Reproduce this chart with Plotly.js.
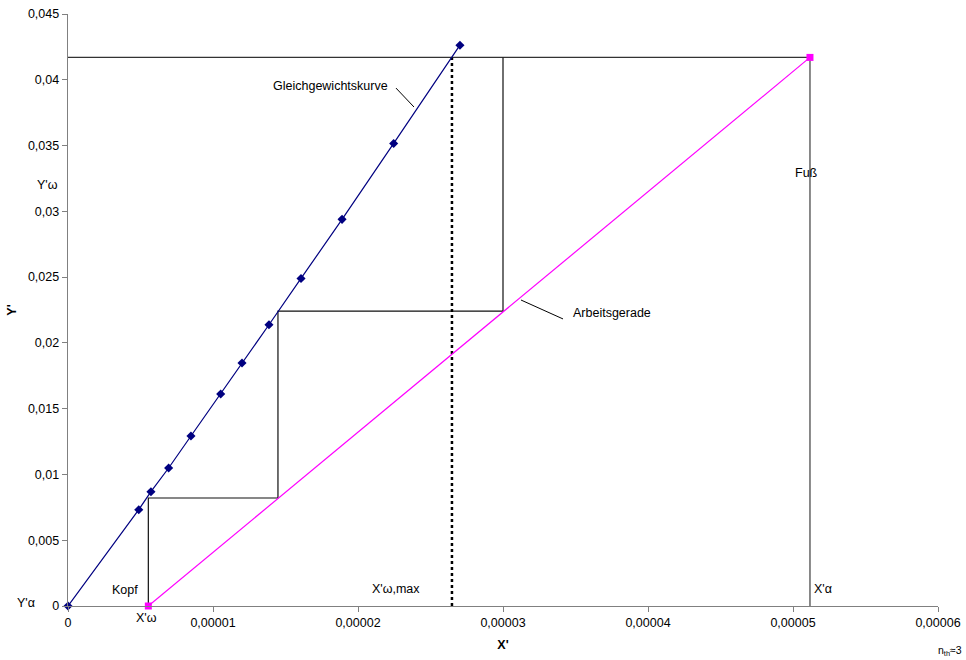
<!DOCTYPE html>
<html>
<head>
<meta charset="utf-8">
<script src="https://cdn.plot.ly/plotly-3.0.1.min.js"></script>
<style>html,body{margin:0;padding:0;background:#fff;}#chart{width:966px;height:660px;}</style>
</head>
<body>
<div id="chart"></div>
<script>
// Gleichgewichtskurve (equilibrium curve) points
const eqX = [0, 4.88e-6, 5.72e-6, 6.94e-6, 8.48e-6, 10.53e-6, 12.0e-6, 13.86e-6, 16.07e-6, 18.9e-6, 22.46e-6, 27.03e-6];
const eqY = [0, 0.00732, 0.00869, 0.01049, 0.01292, 0.01611, 0.01847, 0.02138, 0.0249, 0.02939, 0.03516, 0.04263];

// Arbeitsgerade (operating line)
const opX = [5.54e-6, 51.17e-6];
const opY = [0, 0.0417];

// Stufen (stages)
const stepX = [5.54e-6, 5.54e-6, 14.48e-6, 14.48e-6, 30.0e-6, 30.0e-6];
const stepY = [0, 0.00821, 0.00821, 0.02242, 0.02242, 0.0417];

// Y'omega horizontal line and X'alpha vertical line
const topX = [0, 51.17e-6];
const topY = [0.0417, 0.0417];
const footX = [51.17e-6, 51.17e-6];
const footY = [0.0417, 0];

// X'omega,max dotted line
const maxX = [26.48e-6, 26.48e-6];
const maxY = [0, 0.0417];

// ticks
const xTickVals = [0, 0.00001, 0.00002, 0.00003, 0.00004, 0.00005, 0.00006];
const xTickText = ["0", "0,00001", "0,00002", "0,00003", "0,00004", "0,00005", "0,00006"];
const yTickVals = [0, 0.005, 0.01, 0.015, 0.02, 0.025, 0.03, 0.035, 0.04, 0.045];
const yTickText = ["0", "0,005", "0,01", "0,015", "0,02", "0,025", "0,03", "0,035", "0,04", "0,045"];

const FONT = "'Liberation Sans', Arial, sans-serif";
const FS = 12.5;

const traces = [
  {x: topX, y: topY, mode: 'lines', line: {color: '#333333', width: 1.3}, hoverinfo: 'skip'},
  {x: footX, y: footY, mode: 'lines', line: {color: '#6e6e6e', width: 1.6}, hoverinfo: 'skip'},
  {x: stepX, y: stepY, mode: 'lines', line: {color: '#111111', width: 1.2}, hoverinfo: 'skip'},
  {x: maxX, y: maxY, mode: 'lines', line: {color: '#000000', width: 2.5, dash: 'dot'}, hoverinfo: 'skip'},
  {x: opX, y: opY, mode: 'lines+markers', line: {color: '#ff00ff', width: 1.2},
   marker: {symbol: 'square', size: 7, color: '#ff00ff'}, cliponaxis: false},
  {x: eqX, y: eqY, mode: 'lines+markers', line: {color: '#000080', width: 1.2},
   marker: {symbol: 'diamond', size: 7, color: '#000080'}, cliponaxis: false}
];

function ann(text, x, y, opts) {
  return Object.assign({text: text, x: x, y: y, xref: 'x', yref: 'y', showarrow: false,
    xanchor: 'center', yanchor: 'middle',
    font: {family: FONT, size: FS, color: '#000'}}, opts || {});
}

const annotations = [
  ann('Gleichgewichtskurve', 18.07e-6, 0.03953),
  ann('Arbeitsgerade', 37.52e-6, 0.02227),
  ann('Fuß', 50.9e-6, 0.03291),
  ann('Kopf', 3.93e-6, 0.00122),
  ann("X'ω,max", 22.62e-6, 0.00129),
  ann("X'α", 52.07e-6, 0.00129),
  ann("X'ω", 5.38e-6, -0.0203, {yref: 'paper'}),
  ann("Y'ω", -0.023, 0.032, {xref: 'paper'}),
  ann("Y'α", -0.048, 0.00023, {xref: 'paper'}),
  ann("n<sub>th</sub>≈3", 1.0138, -0.076, {xref: 'paper', yref: 'paper', font: {family: FONT, size: 10.5, color: '#000'}})
];

const shapes = [
  {type: 'line', xref: 'x', yref: 'y', x0: 22.62e-6, y0: 0.03937, x1: 23.86e-6, y1: 0.03793, line: {color: '#000', width: 1}},
  {type: 'line', xref: 'x', yref: 'y', x0: 31.24e-6, y0: 0.02326, x1: 34.14e-6, y1: 0.02182, line: {color: '#000', width: 1}}
];

const layout = {
  width: 966, height: 660,
  margin: {l: 68, r: 28, t: 14, b: 54},
  paper_bgcolor: '#fff', plot_bgcolor: '#fff',
  showlegend: false,
  font: {family: FONT, size: FS, color: '#000'},
  xaxis: {
    range: [0, 0.00006], showgrid: false, zeroline: false,
    showline: true, linecolor: '#808080', linewidth: 1.3,
    ticks: 'outside', ticklen: 5, tickcolor: '#808080',
    tickvals: xTickVals, ticktext: xTickText,
    tickfont: {family: FONT, size: FS, color: '#000'},
    title: {text: "<b>X'</b>", standoff: 11, font: {family: FONT, size: FS, color: '#000'}}
  },
  yaxis: {
    range: [0, 0.045], showgrid: false, zeroline: false,
    showline: true, linecolor: '#808080', linewidth: 1.3,
    ticks: 'outside', ticklen: 5, tickcolor: '#808080',
    tickvals: yTickVals, ticktext: yTickText,
    tickfont: {family: FONT, size: FS, color: '#000'},
    title: {text: "<b>Y'</b>", standoff: 8, font: {family: FONT, size: FS, color: '#000'}}
  },
  annotations: annotations,
  shapes: shapes
};

Plotly.newPlot('chart', traces, layout, {displayModeBar: false, staticPlot: true});
</script>
</body>
</html>
